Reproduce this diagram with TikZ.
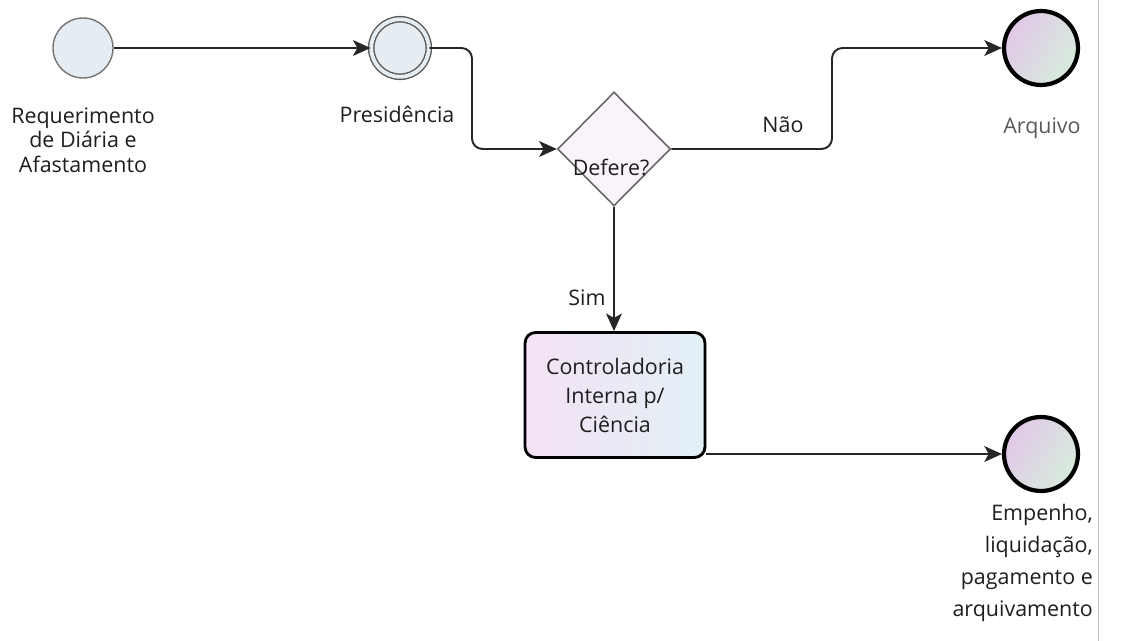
\documentclass[tikz,border=0pt]{standalone}
\usepackage{fontspec}
\setmainfont{Open Sans}
\usetikzlibrary{arrows.meta,positioning,shapes.geometric}

\definecolor{evfill}{RGB}{230,237,242}
\definecolor{endpink}{RGB}{226,200,232}
\definecolor{endgreen}{RGB}{214,236,220}
\definecolor{boxpink}{RGB}{244,226,244}
\definecolor{boxblue}{RGB}{226,240,246}
\definecolor{txt}{RGB}{30,30,30}

\tikzset{
    flow/.style={-{Stealth[length=10pt,width=9pt,inset=2.5pt]}, line width=1.1pt, black!85},
    startev/.style={circle, draw=black!55, line width=0.8pt, fill=evfill, minimum size=1.2cm, inner sep=0},
    midev/.style={circle, draw=black!65, line width=0.8pt, double=evfill, double distance=2.2pt, fill=evfill, minimum size=1.15cm, inner sep=0},
    endev/.style={circle, draw=black, line width=2.4pt, left color=endpink, right color=endgreen, shading angle=60, minimum size=1.48cm, inner sep=0},
    decision/.style={diamond, draw=black!60, line width=0.9pt, fill=boxpink!40, minimum width=2.26cm, minimum height=2.28cm, inner sep=0},
    task/.style={rectangle, rounded corners=6pt, draw=black, line width=1.6pt, left color=boxpink, right color=boxblue, minimum width=3.6cm, minimum height=2.5cm, align=center, text=txt},
    lbl/.style={font=\fontsize{12.2}{14}\selectfont, text=txt, align=center}
}

\begin{document}
\begin{tikzpicture}[x=0.02cm, y=-0.02cm]
    \useasboundingbox (0,0) rectangle (1123,641);

    % Events
    \node[startev] (start) at (83,48) {};
    \node[lbl] (startlbl) at (83,140) {Requerimento\\de Diária e\\Afastamento};

    \node[midev] (pres) at (400,48) {};
    \node[lbl] (preslbl) at (397,114) {Presidência};

    \node[endev] (arq) at (1041,48) {};
    \node[lbl, text=black!65] (arqlbl) at (1042,128) {Arquivo};

    \node[endev] (emp) at (1041,454) {};
    \node[lbl, font=\fontsize{12.2}{18.2}\selectfont, align=right, anchor=east] (emplbl) at (1099,563) {Empenho,\\liquidação,\\pagamento e\\arquivamento};

    % Gateway and task
    \node[decision] (dec) at (614,149) {};
    \node[lbl] (declbl) at (611,167) {Defere?};

    \node[task, font=\fontsize{12.2}{16.5}\selectfont] (ctrl) at (615,395) {Controladoria\\Interna p/\\Ciência};

    % Flows
    \coordinate (bend1) at (472,48);
    \coordinate (bend2) at (832,149);
    \draw[flow] (start) -- (pres);
    \draw[flow, rounded corners=6pt] (pres.east) -- (bend1) |- (dec.west);
    \draw[flow, rounded corners=6pt] (dec.east) -- (bend2) |- (arq.west);
    \draw[flow] (dec.south) -- (dec.south |- ctrl.north);
    \draw[flow] (ctrl.east |- emp.west) -- (emp.west);

    % Flow labels
    \node[lbl] (nao) at (783,125) {Não};
    \node[lbl] (sim) at (587,298) {Sim};

    % page edge
    \draw[black!25, line width=0.4pt] (1098,0) -- (1098,641);
\end{tikzpicture}
\end{document}
